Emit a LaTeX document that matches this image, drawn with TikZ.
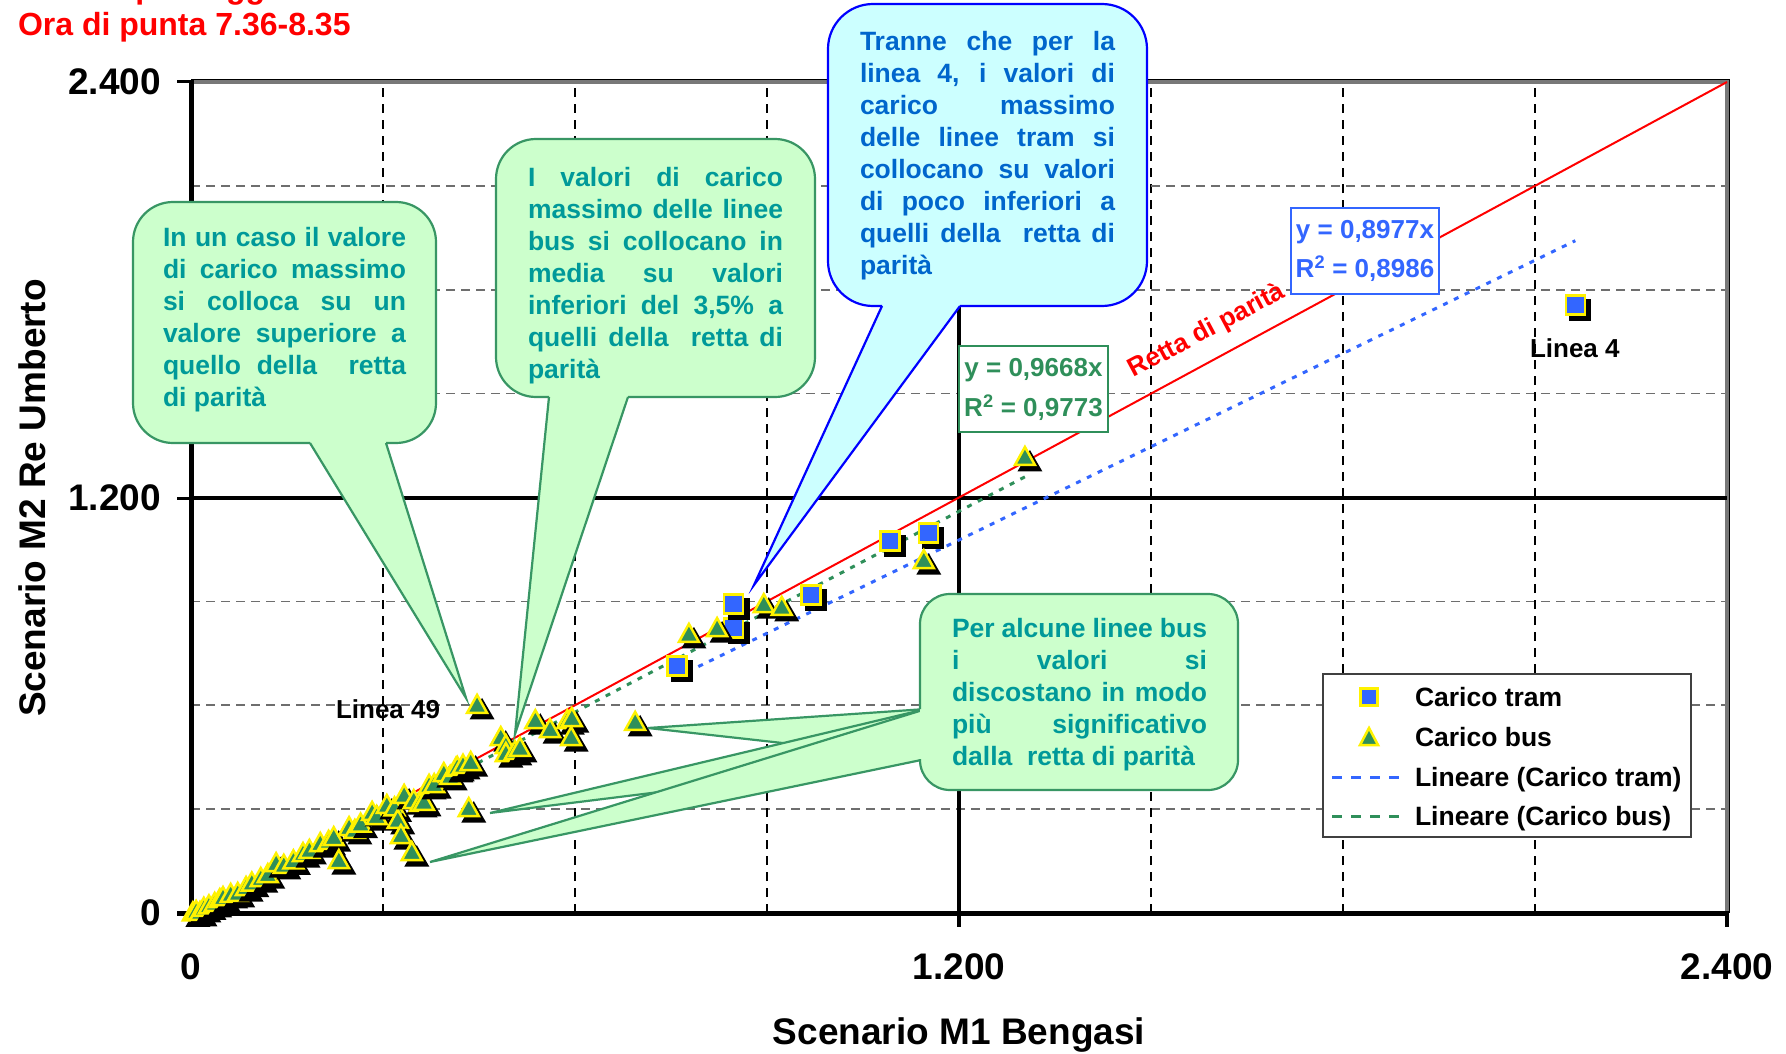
\documentclass[tikz,border=0pt]{standalone}
\usepackage{fontspec}
\setmainfont{Liberation Sans}
\definecolor{busgreen}{RGB}{47,143,90}
\definecolor{tramblue}{RGB}{51,102,255}
\definecolor{cgfillc}{RGB}{204,255,204}
\definecolor{cglinec}{RGB}{56,150,100}
\definecolor{cgtextc}{RGB}{0,153,153}
\definecolor{cbfillc}{RGB}{204,255,255}
\definecolor{cblinec}{RGB}{0,0,255}
\definecolor{cbtextc}{RGB}{0,102,204}
\definecolor{hgridc}{RGB}{110,110,110}
\definecolor{bordgray}{RGB}{120,120,120}
\newcommand\tramM[2]{%
  \fill[black] ([shift={(5pt,-5pt)}]#1,#2) ++(-11pt,-11pt) rectangle ++(22pt,22pt);
  \filldraw[fill=tramblue,draw=yellow,line width=2.5pt] (#1,#2) ++(-9.5pt,-9.5pt) rectangle ++(19pt,19pt);}
\newcommand\busM[2]{%
  \fill[black] ([shift={(5pt,-5pt)}]#1,#2) ++(0pt,12pt) -- ++(12.5pt,-21.5pt) -- ++(-25pt,0pt) -- cycle;
  \filldraw[fill=busgreen,draw=yellow,line width=2.5pt,line join=miter] (#1,#2) ++(0pt,10pt) -- ++(10pt,-18pt) -- ++(-20pt,0pt) -- cycle;}
\begin{document}
\begin{tikzpicture}[x=1pt,y=-1pt,
  every node/.style={inner sep=0pt,outer sep=0pt},
  big/.style={font=\fontsize{37}{44}\selectfont\bfseries},
  mid/.style={font=\fontsize{26}{31}\selectfont\bfseries},
  legtext/.style={anchor=base west,font=\fontsize{26.5}{31}\selectfont\bfseries},
  vgrid/.style={black,line width=1.6pt,dash pattern=on 9pt off 7pt},
  hgrid/.style={hgridc,line width=1.6pt,dash pattern=on 9pt off 6pt},
  majorline/.style={black,line width=4pt},
  axisline/.style={black,line width=5pt},
  cg/.style={cglinec,line width=2.2pt},
  cb/.style={cblinec,line width=2.2pt},
  ctext/.style={anchor=base west,font=\fontsize{26.5}{32}\selectfont\bfseries},
  trenddot/.style={line width=3pt,dash pattern=on 5pt off 7pt},
  legdash/.style={line width=3pt,dash pattern=on 10pt off 9pt}
]
\useasboundingbox (0,0) rectangle (1786,1054);
\fill[white] (0,0) rectangle (1786,1054);

% ---------- grid (data coordinates) ----------
\begin{scope}[shift={(191,913)},x=0.64pt,y=0.34625pt]
  \foreach \v in {300,600,900,1500,1800,2100}{
    \draw[vgrid] (\v,0) -- (\v,2400);
    \draw[hgrid] (0,\v) -- (2400,\v);
  }
\end{scope}

% borders, major lines, axes
\draw[bordgray,line width=4pt] (191,82) -- (1727,82) -- (1727,913);
\draw[black,line width=1.2pt] (191,79.5) -- (1729.5,79.5) -- (1729.5,913);
\draw[majorline] (191,498) -- (1727,498);
\draw[majorline] (959,82) -- (959,927);
\draw[majorline] (1727,913) -- (1727,927);
\draw[axisline] (191,80) -- (191,927);
\draw[axisline] (177,913) -- (1729,913);
\draw[black,line width=3pt] (177,82) -- (191,82);
\draw[black,line width=3pt] (177,498) -- (191,498);

% ---------- data ----------
\begin{scope}[shift={(191,913)},x=0.64pt,y=0.34625pt]
  \draw[red,line width=2pt] (0,0) -- (2400,2400);
  \draw[busgreen,trenddot] (0,0) -- (1303,1259.7);
  \draw[tramblue,trenddot] (759,681.4) -- (2163,1941.7);
  \foreach \x/\y in {759/713,848/823,848/892,969/919,1092/1074,1152/1097,2163/1756}{\tramM{\x}{\y}}
  \foreach \x/\y in {3/2,8/6,14/3,20/15,28/22,37/29,45/40,50/46,62/55,73/58,86/75,95/88,109/101,120/112,133/144,145/139,160/152,175/173,185/182,202/202,215/208,223/219,231/153,247/248,256/240,265/258,283/292,290/280,306/312,318/305,323/269,328/225,333/341,345/176,348/326,358/318,364/321,372/370,380/372,395/404,405/396,414/419,416/422,425/428,434/303,437/436,447/601,484/508,492/485,492/462,506/468,514/477,538/557,561/531,588/557,595/563,594/508,694/552,778/806,822/823,895/892,923/884,1145/1019,1303/1317}{\busM{\x}{\y}}
\end{scope}

% point labels
\node[mid,anchor=base west] (l4) at (1530,357) {Linea 4};
\node[mid,anchor=base west] (l49) at (336,718) {Linea 49};

% trend labels
\node[draw=busgreen,line width=1.2pt,fill=white,minimum width=149pt,minimum height=86pt,align=center,text=busgreen,font=\fontsize{26}{40}\selectfont\bfseries] (glab) at (1033.5,389) {y = 0,9668x\\R\textsuperscript{2} = 0,9773};
\node[draw=tramblue,line width=1.2pt,fill=white,minimum width=148pt,minimum height=86pt,align=center,text=tramblue,font=\fontsize{26}{39}\selectfont\bfseries] (blab) at (1365,251) {y = 0,8977x\\R\textsuperscript{2} = 0,8986};
\node[mid,text=red,rotate=28] (retta) at (1207,331) {Retta di parità};

% legend
\draw[black!75,line width=1.5pt,fill=white] (1323,674) rectangle (1691,837);
\filldraw[fill=tramblue,draw=yellow,line width=2.5pt] (1360.5,688.5) rectangle (1377.5,705.5);
\filldraw[fill=busgreen,draw=yellow,line width=2.5pt,line join=miter] (1369,728) -- (1378,745) -- (1360,745) -- cycle;
\draw[tramblue,legdash] (1332,777) -- (1400,777);
\draw[busgreen,legdash] (1332,816) -- (1400,816);
\node[legtext] (lg1) at (1415,706) {Carico tram};
\node[legtext] (lg2) at (1415,746) {Carico bus};
\node[legtext] (lg3) at (1415,786) {Lineare (Carico tram)};
\node[legtext] (lg4) at (1415,825) {Lineare (Carico bus)};

% ---------- callout 1 ----------
\fill[cgfillc,rounded corners=40pt] (133,202) rectangle (436,443);
\fill[cgfillc] (310,438) -- (310,443) -- (466,698) -- (386,443) -- (386,438) -- cycle;
\draw[cg,rounded corners=40pt] (310,443) -- (133,443) -- (133,202) -- (436,202) -- (436,443) -- (386,443);
\draw[cg,line join=miter] (310,443) -- (466,698) -- (386,443);
\node[ctext,text=cgtextc] (c1txt) at (163,246) {\vtop{%
\hbox{\makebox[243pt][s]{In un caso il valore}}%
\hbox{\makebox[243pt][s]{di carico massimo}}%
\hbox{\makebox[243pt][s]{si colloca su un}}%
\hbox{\makebox[243pt][s]{valore superiore a}}%
\hbox{\makebox[243pt][s]{quello della\ \ retta}}%
\hbox{di parità}}};

% ---------- callout 2 ----------
\fill[cgfillc,rounded corners=40pt] (496,139) rectangle (815,397);
\fill[cgfillc] (549,392) -- (549,397) -- (515,734) -- (628,397) -- (628,392) -- cycle;
\draw[cg,rounded corners=40pt] (549,397) -- (496,397) -- (496,139) -- (815,139) -- (815,397) -- (628,397);
\draw[cg,line join=miter] (549,397) -- (515,734) -- (628,397);
\node[ctext,text=cgtextc] (c2txt) at (528,186) {\vtop{%
\hbox{\makebox[255pt][s]{I valori di carico}}%
\hbox{\makebox[255pt][s]{massimo delle linee}}%
\hbox{\makebox[255pt][s]{bus si collocano in}}%
\hbox{\makebox[255pt][s]{media su valori}}%
\hbox{\makebox[255pt][s]{inferiori del 3,5\% a}}%
\hbox{\makebox[255pt][s]{quelli della\ \ retta di}}%
\hbox{parità}}};

% ---------- callout 3 ----------
\fill[cbfillc,rounded corners=45pt] (828,4) rectangle (1147,306);
\fill[cbfillc] (882,301) -- (882,306) -- (754,585) -- (960,306) -- (960,301) -- cycle;
\draw[cb,rounded corners=45pt] (882,306) -- (828,306) -- (828,4) -- (1147,4) -- (1147,306) -- (960,306);
\draw[cb,line join=miter] (882,306) -- (754,585) -- (960,306);
\node[ctext,text=cbtextc] (c3txt) at (860,51) {\vtop{%
\hbox{\makebox[255pt][s]{Tranne che per la}}%
\hbox{\makebox[255pt][s]{linea 4, i valori di}}%
\hbox{\makebox[255pt][s]{carico massimo}}%
\hbox{\makebox[255pt][s]{delle linee tram si}}%
\hbox{\makebox[255pt][s]{collocano su valori}}%
\hbox{\makebox[255pt][s]{di poco inferiori a}}%
\hbox{\makebox[255pt][s]{quelli della\ \ retta di}}%
\hbox{parità}}};

% ---------- callout 4 (three tails) ----------
\coordinate (c4up) at (926,709);
\coordinate (c4lo) at (926,759);
\coordinate (tipA) at (648,728);
\coordinate (tipB) at (490,813);
\coordinate (tipC) at (430,862);
\foreach \t in {tipA,tipB,tipC}{
  \fill[cgfillc] (c4up) -- (\t) -- (c4lo) -- cycle;
  \draw[cg,line join=miter] (c4up) -- (\t) -- (c4lo);
}
\fill[cgfillc,rounded corners=30pt] (920,594) rectangle (1238,790);
\draw[cg,rounded corners=30pt] (920,759) -- (920,790) -- (1238,790) -- (1238,594) -- (920,594) -- (920,709);
\node[ctext,text=cgtextc] (c4txt) at (952,637) {\vtop{%
\hbox{\makebox[255pt][s]{Per alcune linee bus}}%
\hbox{\makebox[255pt][s]{i valori si}}%
\hbox{\makebox[255pt][s]{discostano in modo}}%
\hbox{\makebox[255pt][s]{più significativo}}%
\hbox{dalla\ \ retta di parità}}};

% ---------- axis labels and titles ----------
\node[big,anchor=east] (y2400) at (161,82) {2.400};
\node[big,anchor=east] (y1200) at (161,498) {1.200};
\node[big,anchor=east] (y0) at (161,913) {0};
\node[big] (x0) at (191,967) {0};
\node[big] (x1200) at (959,967) {1.200};
\node[big] (x2400) at (1727,967) {2.400};
\node[big,anchor=base] (xtitle) at (959,1044) {Scenario M1 Bengasi};
\node[big,anchor=base,rotate=90] (ytitle) at (45,498) {Scenario M2 Re Umberto};
\node[anchor=base west,text=red,font=\fontsize{32}{38}\selectfont\bfseries] (title1) at (18,-1) {Carichi passeggeri};
\node[anchor=base west,text=red,font=\fontsize{32}{38}\selectfont\bfseries] (title2) at (18,36) {Ora di punta 7.36-8.35};
\end{tikzpicture}
\end{document}
